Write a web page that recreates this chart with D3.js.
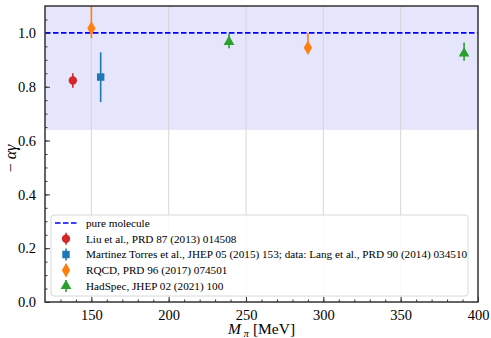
<!DOCTYPE html>
<html>
<head>
<meta charset="utf-8">
<script src="https://cdn.jsdelivr.net/npm/d3@7"></script>
<style>
  body { margin: 0; background: #fff; }
</style>
</head>
<body>
<div id="chart"></div>
<script>
// data
var liu = [{x: 138, y: 0.823, lo: 0.027, hi: 0.027}];
var martinez = [{x: 156, y: 0.836, lo: 0.093, hi: 0.092}];
var rqcd = [{x: 150, y: 1.017, lo: 0.037, hi: 0.15}, {x: 290, y: 0.945, lo: 0.003, hi: 0.055}];
var hadspec = [{x: 239, y: 0.967, lo: 0.024, hi: 0.032}, {x: 391, y: 0.924, lo: 0.027, hi: 0.04}];
var xTicks = [150, 200, 250, 300, 350, 400];
var yTicks = [0.0, 0.2, 0.4, 0.6, 0.8, 1.0];
var bandLow = 0.64;
var moleculeValue = 1.0;

var serif = "Liberation Serif, Times New Roman, Times, DejaVu Serif, Noto Serif, serif";

var series = [
  {name: "Liu et al., PRD 87 (2013) 014508", data: liu, color: "#d62728", shape: d3.symbolCircle, size: 55},
  {name: "Martinez Torres et al., JHEP 05 (2015) 153; data: Lang et al., PRD 90 (2014) 034510", data: martinez, color: "#1f77b4", shape: d3.symbolSquare, size: 55},
  {name: "RQCD, PRD 96 (2017) 074501", data: rqcd, color: "#ff7f0e", shape: d3.symbolDiamond, size: 60},
  {name: "HadSpec, JHEP 02 (2021) 100", data: hadspec, color: "#2ca02c", shape: d3.symbolTriangle, size: 50}
];

var svgWidth = 491;
var svgHeight = 338;
var margin = {top: 6, right: 13, bottom: 36, left: 45};
var width = svgWidth - margin.left - margin.right;
var height = svgHeight - margin.top - margin.bottom;

var svg = d3.select("#chart")
  .append("svg")
  .attr("width", svgWidth)
  .attr("height", svgHeight)
  .attr("font-family", serif);

var chartGroup = svg.append("g")
  .attr("transform", `translate(${margin.left}, ${margin.top})`);

var x = d3.scaleLinear().domain([120, 400]).range([0, width]);
var y = d3.scaleLinear().domain([0, 1.1]).range([height, 0]);

svg.append("defs").append("clipPath").attr("id", "clip")
  .append("rect").attr("width", width).attr("height", height);

var plot = chartGroup.append("g").attr("clip-path", "url(#clip)");

// shaded band
plot.append("rect")
  .attr("x", 0)
  .attr("width", width)
  .attr("y", y(1.1))
  .attr("height", y(bandLow) - y(1.1))
  .attr("fill", "#e5e5fb");

// vertical grid
plot.selectAll(".grid")
  .data(xTicks.slice(0, -1))
  .enter()
  .append("line")
  .attr("x1", d => x(d)).attr("x2", d => x(d))
  .attr("y1", 0).attr("y2", height)
  .attr("stroke", "#d6d6d6")
  .attr("stroke-width", 1);

// pure molecule line
plot.append("line")
  .attr("x1", 0).attr("x2", width)
  .attr("y1", y(moleculeValue)).attr("y2", y(moleculeValue))
  .attr("stroke", "#0000ff")
  .attr("stroke-width", 1.6)
  .attr("stroke-dasharray", "5.5,2.5");

// error bars and markers
series.forEach(function(s) {
  var g = plot.append("g");
  g.selectAll("line")
    .data(s.data)
    .enter()
    .append("line")
    .attr("x1", d => x(d.x)).attr("x2", d => x(d.x))
    .attr("y1", d => y(d.y - d.lo)).attr("y2", d => y(d.y + d.hi))
    .attr("stroke", s.color)
    .attr("stroke-width", 1.6);
  g.selectAll("path")
    .data(s.data)
    .enter()
    .append("path")
    .attr("d", d3.symbol().type(s.shape).size(s.size))
    .attr("transform", d => `translate(${x(d.x)}, ${y(d.y)})`)
    .attr("fill", s.color);
});

// axes
var bottomAxis = d3.axisBottom(x).tickValues(xTicks).tickSizeInner(-5).tickSizeOuter(0).tickPadding(8);
var leftAxis = d3.axisLeft(y).tickValues(yTicks).tickFormat(d3.format(".1f")).tickSizeInner(-5).tickSizeOuter(0).tickPadding(9);
var bottomMinor = d3.axisBottom(x).tickValues(d3.range(130, 400, 10)).tickSize(-2.5).tickFormat("");
var leftMinor = d3.axisLeft(y).tickValues(d3.range(0.05, 1.1, 0.05)).tickSize(-2.5).tickFormat("");

[bottomMinor, bottomAxis].forEach(function(a) {
  chartGroup.append("g")
    .attr("class", "axis")
    .attr("transform", `translate(0, ${height})`)
    .call(a);
});
[leftMinor, leftAxis].forEach(function(a) {
  chartGroup.append("g")
    .attr("class", "axis")
    .call(a);
});
chartGroup.selectAll(".axis").attr("font-family", serif).attr("font-size", 14.5);
chartGroup.selectAll(".axis .domain").remove();
chartGroup.selectAll(".axis line").attr("stroke", "#333");
chartGroup.selectAll(".axis text").attr("fill", "#000");

// frame
chartGroup.append("rect")
  .attr("width", width)
  .attr("height", height)
  .attr("fill", "none")
  .attr("stroke", "#333")
  .attr("stroke-width", 1.5);

// legend
var legend = chartGroup.append("g")
  .attr("transform", `translate(6, ${height - 87})`)
  .attr("font-size", 11.2);
legend.append("rect")
  .attr("width", 417)
  .attr("height", 81)
  .attr("rx", 3)
  .attr("fill", "#fff")
  .attr("fill-opacity", 0.85)
  .attr("stroke", "#d8d8d8");

var rowY = d3.scaleLinear().domain([0, 4]).range([8, 71]);
legend.append("line")
  .attr("x1", 4).attr("x2", 26)
  .attr("y1", rowY(0)).attr("y2", rowY(0))
  .attr("stroke", "#0000ff")
  .attr("stroke-width", 1.6)
  .attr("stroke-dasharray", "5.5,2.5");
legend.append("text")
  .attr("x", 35).attr("y", rowY(0) + 3.8)
  .text("pure molecule");

series.forEach(function(s, i) {
  var ry = rowY(i + 1);
  legend.append("line")
    .attr("x1", 15).attr("x2", 15)
    .attr("y1", ry - 6).attr("y2", ry + 6)
    .attr("stroke", s.color)
    .attr("stroke-width", 1.6);
  legend.append("path")
    .attr("d", d3.symbol().type(s.shape).size(s.size))
    .attr("transform", `translate(15, ${ry})`)
    .attr("fill", s.color);
  legend.append("text")
    .attr("x", 35).attr("y", ry + 3.8)
    .text(s.name);
});

// x axis label: M_pi [MeV], built from separate pieces so they do not overlap
var xl = svg.append("g").attr("font-size", 15.5);
var mText = xl.append("text").attr("y", 334).attr("font-style", "italic").text("M");
var piText = xl.append("text").attr("y", 337).attr("font-size", 10).attr("font-style", "italic").text("π");
var unitText = xl.append("text").attr("y", 334).text("[MeV]");
var mW = mText.node().getComputedTextLength();
var piW = piText.node().getComputedTextLength();
var uW = unitText.node().getComputedTextLength();
var gap = 3, space = 4;
var total = mW + gap + piW + space + uW;
var x0 = margin.left + width / 2 - total / 2;
mText.attr("x", x0);
piText.attr("x", x0 + mW + gap);
unitText.attr("x", x0 + mW + gap + piW + space);

svg.append("text")
  .attr("transform", `translate(16, ${margin.top + height / 2 + 5}) rotate(-90)`)
  .attr("text-anchor", "middle")
  .attr("font-size", 16)
  .attr("font-style", "italic")
  .text("−\u2009αγ");
</script>
</body>
</html>
